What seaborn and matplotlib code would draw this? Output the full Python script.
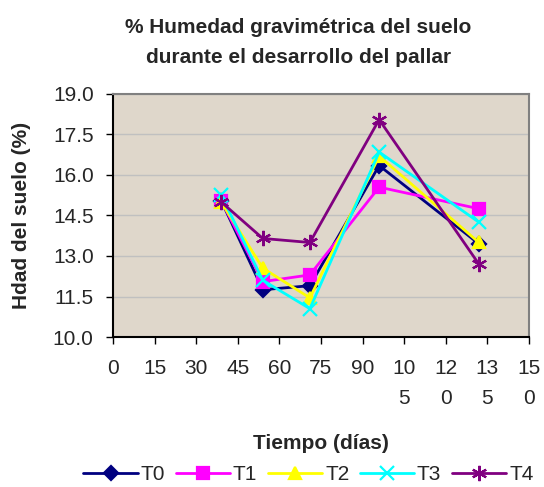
import matplotlib
matplotlib.use("Agg")
import matplotlib.pyplot as plt
import seaborn as sns
import pandas as pd

dias = [39, 54, 71, 96, 132]
t0 = [15.05, 11.75, 11.9, 16.35, 13.45]
t1 = [15.05, 12.05, 12.3, 15.55, 14.75]
t2 = [15.0, 12.55, 11.45, 16.7, 13.5]
t3 = [15.25, 12.1, 11.05, 16.85, 14.25]
t4 = [15.0, 13.65, 13.5, 18.05, 12.7]
series = ["T0", "T1", "T2", "T3", "T4"]
x_ticks = [0, 15, 30, 45, 60, 75, 90, 105, 120, 135, 150]
x_labels = ["0", "15", "30", "45", "60", "75", "90", "10\n5", "12\n0", "13\n5", "15\n0"]
y_ticks = [10.0, 11.5, 13.0, 14.5, 16.0, 17.5, 19.0]

df = pd.DataFrame({
    "dias": dias * 5,
    "hdad": t0 + t1 + t2 + t3 + t4,
    "trat": [s for s in series for _ in dias],
})

sns.set_style("white")
plt.rcParams["font.family"] = ["Liberation Sans", "DejaVu Sans"]
plt.rcParams["font.size"] = 15

colors = {"T0": "#000080", "T1": "#FF00FF", "T2": "#FFFF00", "T3": "#00FFFF", "T4": "#800080"}
markers = {"T0": "D", "T1": "s", "T2": "^", "T3": "x", "T4": (6, 2, 0)}
msize = {"T0": 7.5, "T1": 8.5, "T2": 9, "T3": 10, "T4": 11}

fig = plt.figure(figsize=(5.44, 4.87), dpi=100)
ax = fig.add_axes([0.208, 0.308, 0.764, 0.499])
ax.set_facecolor("#DFD7CB")

for s in series:
    sub = df[df["trat"] == s]
    sns.lineplot(data=sub, x="dias", y="hdad", color=colors[s], marker=markers[s],
                 markersize=msize[s], markeredgewidth=1.6, markeredgecolor=colors[s],
                 linewidth=2, label=s, ax=ax)

ax.set_xlim(0, 150)
ax.set_ylim(10, 19)
ax.set_xticks(x_ticks)
ax.set_xticklabels(x_labels, linespacing=1.75, va="top")
ax.set_yticks(y_ticks)
ax.set_yticklabels([f"{v:.1f}" for v in y_ticks])
ax.yaxis.grid(True, color="#C0C0C0", linewidth=1)
ax.set_axisbelow(True)
ax.tick_params(axis="both", direction="out", length=5, width=1, color="black",
               bottom=True, left=True, labelsize=15)
ax.tick_params(axis="x", pad=11)
ax.tick_params(axis="y", pad=9)
for side in ["top", "right"]:
    ax.spines[side].set_color("#808080")
    ax.spines[side].set_linewidth(1.5)
for side in ["left", "bottom"]:
    ax.spines[side].set_color("black")
    ax.spines[side].set_linewidth(1.5)

ax.set_xlabel("Tiempo (días)", fontsize=15, fontweight="bold")
ax.set_ylabel("Hdad del suelo (%)", fontsize=15, fontweight="bold")
ax.xaxis.set_label_coords(0.5, -0.4)
ax.yaxis.set_label_coords(-0.197, 0.5)
fig.suptitle("% Humedad gravimétrica del suelo\ndurante el desarrollo del pallar",
             fontsize=15, fontweight="bold", x=0.549, y=0.963, linespacing=1.75)

handles, labels = ax.get_legend_handles_labels()
ax.legend_.remove()
fig.legend(handles, labels, loc="center", bbox_to_anchor=(0.567, 0.026), ncol=5,
           frameon=False, fontsize=15, handlelength=2.6, columnspacing=0.5,
           handletextpad=0.15, borderpad=0, borderaxespad=0)

fig.savefig("out.png", dpi=100)
